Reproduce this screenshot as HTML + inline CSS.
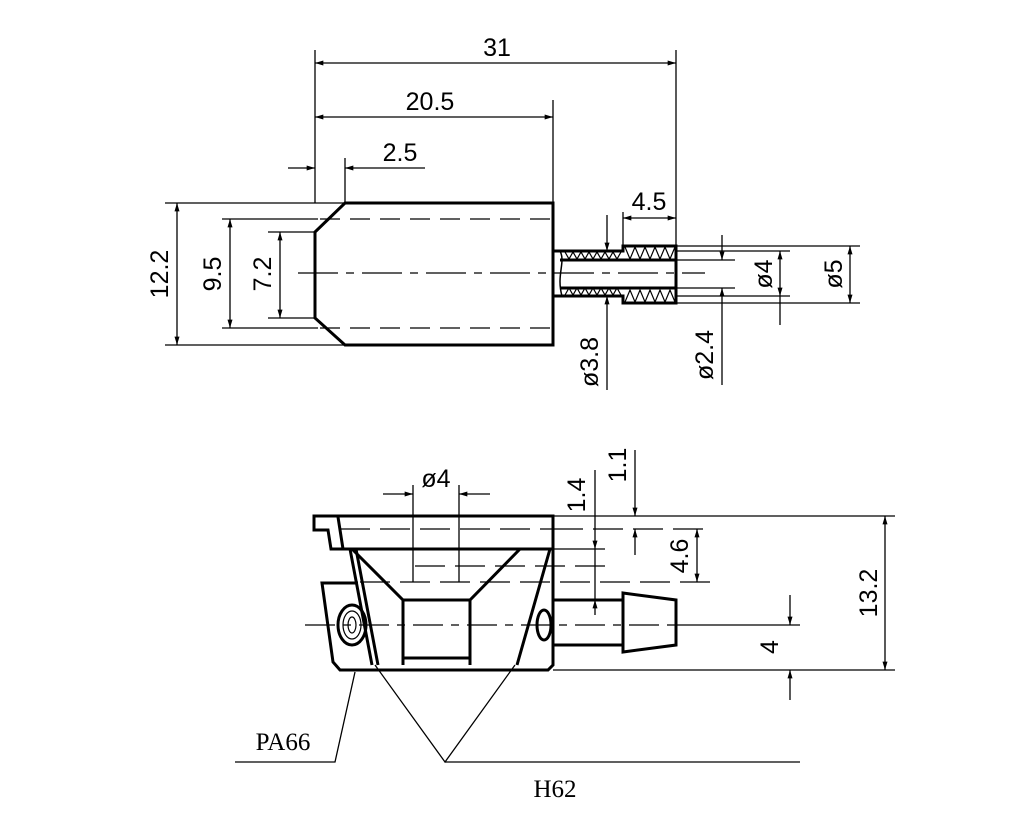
<!DOCTYPE html>
<html><head><style>body{margin:0;background:#fff}svg{display:block}</style></head><body>
<svg width="1024" height="836" viewBox="0 0 1024 836" xmlns="http://www.w3.org/2000/svg" font-family="Liberation Sans, sans-serif">
<defs>
<marker id="a" viewBox="0 0 10 6" refX="10" refY="3" markerWidth="12" markerHeight="5" orient="auto-start-reverse" markerUnits="userSpaceOnUse"><path d="M0,0L10,3L0,6z" fill="#000"/></marker>
</defs>
<g stroke="#000" fill="none" stroke-width="1.3">
<line x1="315" y1="50" x2="315" y2="203"/><line x1="676" y1="50" x2="676" y2="246"/>
<line x1="315" y1="63" x2="676" y2="63" marker-start="url(#a)" marker-end="url(#a)"/>
<line x1="553" y1="100" x2="553" y2="203"/>
<line x1="315" y1="117" x2="553" y2="117" marker-start="url(#a)" marker-end="url(#a)"/>
<line x1="345" y1="158" x2="345" y2="203"/>
<line x1="288" y1="168" x2="315" y2="168" marker-end="url(#a)"/>
<line x1="425" y1="168" x2="345" y2="168" marker-end="url(#a)"/>
<line x1="165" y1="203" x2="345" y2="203"/><line x1="165" y1="345" x2="345" y2="345"/>
<line x1="177" y1="203" x2="177" y2="345" marker-start="url(#a)" marker-end="url(#a)"/>
<line x1="222" y1="219" x2="318" y2="219"/><line x1="222" y1="328" x2="318" y2="328"/>
<line x1="230" y1="219" x2="230" y2="328" marker-start="url(#a)" marker-end="url(#a)"/>
<line x1="268" y1="232" x2="315" y2="232"/><line x1="268" y1="318" x2="315" y2="318"/>
<line x1="280" y1="232" x2="280" y2="318" marker-start="url(#a)" marker-end="url(#a)"/>
<line x1="623" y1="212" x2="623" y2="246"/>
<line x1="623" y1="218" x2="676" y2="218" marker-start="url(#a)" marker-end="url(#a)"/>
<line x1="676" y1="251" x2="790" y2="251"/><line x1="676" y1="296" x2="790" y2="296"/>
<line x1="676" y1="246" x2="860" y2="246"/><line x1="676" y1="303" x2="860" y2="303"/>
<line x1="676" y1="260" x2="735" y2="260"/><line x1="676" y1="288" x2="735" y2="288"/>
<line x1="780" y1="251" x2="780" y2="296" marker-start="url(#a)" marker-end="url(#a)"/>
<line x1="780" y1="296" x2="780" y2="325"/>
<line x1="850" y1="246" x2="850" y2="303" marker-start="url(#a)" marker-end="url(#a)"/>
<line x1="607" y1="215" x2="607" y2="251" marker-end="url(#a)"/>
<line x1="607" y1="390" x2="607" y2="296" marker-end="url(#a)"/>
<line x1="722" y1="235" x2="722" y2="260" marker-end="url(#a)"/>
<line x1="722" y1="385" x2="722" y2="288" marker-end="url(#a)"/>
<line x1="298" y1="273" x2="705" y2="273" stroke-dasharray="40,8,8,8"/>
<line x1="320" y1="219" x2="553" y2="219" stroke-dasharray="20,10"/>
<line x1="320" y1="328" x2="553" y2="328" stroke-dasharray="20,10"/>
</g>
<g stroke="#000" fill="none" stroke-width="3">
<path d="M345,203H553V345H345L315,318V232Z"/>
<path d="M553,251H623V246H676V303H623V296H553Z"/>
<path d="M560,260H676M560,288H676"/>
<path d="M560,251C566,262 556,275 562,296" stroke-width="1.5"/>
</g>
<g stroke="#000" stroke-width="1.2" fill="none">
<path d="M565,252 l4,7 4,-7 4,7 4,-7 4,7 4,-7 4,7 4,-7 4,7 4,-7 4,7 4,-7 4,7 4,-7 M625,247 l5,12 5,-12 5,12 5,-12 5,12 5,-12 5,12 5,-12 5,12 5,-12"/>
<path d="M565,295 l4,-7 4,7 4,-7 4,7 4,-7 4,7 4,-7 4,7 4,-7 4,7 4,-7 4,7 4,-7 4,7 M625,302 l5,-12 5,12 5,-12 5,12 5,-12 5,12 5,-12 5,12 5,-12 5,12"/>
</g>
<g stroke="#000" fill="none" stroke-width="1.3">
<line x1="553" y1="516" x2="895" y2="516"/><line x1="553" y1="670" x2="895" y2="670"/>
<line x1="885" y1="516" x2="885" y2="670" marker-start="url(#a)" marker-end="url(#a)"/>
<line x1="676" y1="625" x2="800" y2="625" />
<line x1="790" y1="595" x2="790" y2="625" marker-end="url(#a)"/>
<line x1="790" y1="700" x2="790" y2="670" marker-end="url(#a)"/>
<line x1="553" y1="529" x2="710" y2="529" stroke-dasharray="30,10"/>
<line x1="360" y1="582" x2="710" y2="582" stroke-dasharray="30,10"/>
<line x1="415" y1="566" x2="605" y2="566" stroke-dasharray="30,10"/>
<line x1="697" y1="529" x2="697" y2="582" marker-start="url(#a)" marker-end="url(#a)"/>
<line x1="595" y1="470" x2="595" y2="549" marker-end="url(#a)"/>
<line x1="595" y1="615" x2="595" y2="600" marker-end="url(#a)"/>
<line x1="595" y1="549" x2="595" y2="600"/>
<line x1="635" y1="450" x2="635" y2="516" marker-end="url(#a)"/>
<line x1="635" y1="555" x2="635" y2="529" marker-end="url(#a)"/>
<line x1="553" y1="549" x2="605" y2="549"/>
<line x1="413" y1="485" x2="413" y2="582"/><line x1="459" y1="485" x2="459" y2="582"/>
<line x1="383" y1="494" x2="413" y2="494" marker-end="url(#a)"/>
<line x1="490" y1="494" x2="459" y2="494" marker-end="url(#a)"/>
<line x1="305" y1="625" x2="676" y2="625" stroke-dasharray="30,8,8,8"/>
<line x1="340" y1="529" x2="553" y2="529" stroke-dasharray="30,10"/>
<path d="M235,762H335L355,672"/>
<path d="M375,665L445,762L515,665M445,762H800"/>
</g>
<g stroke="#000" fill="none" stroke-width="3">
<path d="M314,516H553V549H331L328,530H314Z"/>
<path d="M338,517L343,549"/>
<path d="M553,549V665L548,670H340L333,662L322,583H358"/>
<path d="M352,549L403,600H470L520,549"/>
<path d="M403,600V665M470,600V665M403,658H470"/>
<path d="M350,549L372,665M356,549L378,665M550,549L517,665"/>
<path d="M553,600H623M553,645H623M623,593L676,600V645L623,652Z"/>
<ellipse cx="352" cy="625" rx="14" ry="20"/>
<ellipse cx="544" cy="625" rx="7" ry="15"/>
</g>
<g fill="none" stroke="#000" stroke-width="1.2"><ellipse cx="352" cy="625" rx="9" ry="14"/><ellipse cx="352" cy="625" rx="4" ry="8"/></g>
<g font-size="25" fill="#000" text-anchor="middle">
<text x="497" y="56">31</text>
<text x="430" y="110">20.5</text>
<text x="400" y="161">2.5</text>
<text x="649" y="210">4.5</text>
<text transform="translate(168,274) rotate(-90)">12.2</text>
<text transform="translate(221,274) rotate(-90)">9.5</text>
<text transform="translate(271,274) rotate(-90)">7.2</text>
<text transform="translate(772,274) rotate(-90)">ø4</text>
<text transform="translate(842,274) rotate(-90)">ø5</text>
<text transform="translate(598,362) rotate(-90)">ø3.8</text>
<text transform="translate(713,355) rotate(-90)">ø2.4</text>
<text x="436" y="487">ø4</text>
<text transform="translate(585,495) rotate(-90)">1.4</text>
<text transform="translate(626,465) rotate(-90)">1.1</text>
<text transform="translate(688,556) rotate(-90)">4.6</text>
<text transform="translate(877,593) rotate(-90)">13.2</text>
<text transform="translate(778,647) rotate(-90)">4</text>
<text x="283" y="750" font-family="Liberation Serif, serif">PA66</text>
<text x="555" y="797" font-family="Liberation Serif, serif">H62</text>
</g>
</svg>
</body></html>
